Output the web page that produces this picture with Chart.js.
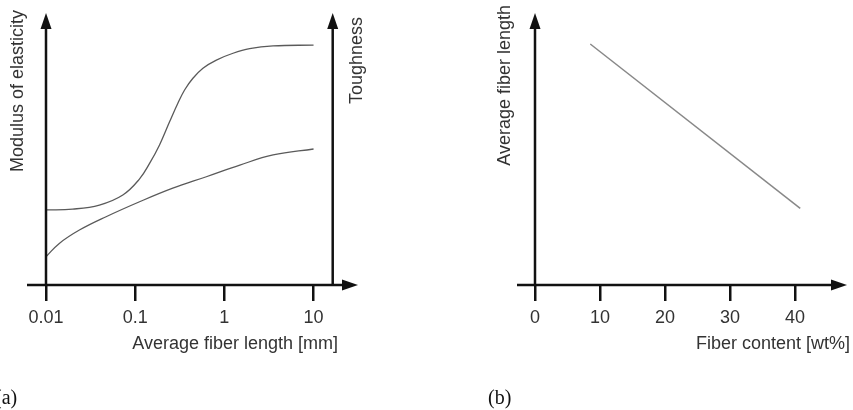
<!DOCTYPE html>
<html>
<head>
<meta charset="utf-8">
<script src="https://cdn.jsdelivr.net/npm/chart.js@4.4.1/dist/chart.umd.min.js"></script>
<style>
  body { margin: 0; background: #fff; width: 853px; height: 410px; overflow: hidden; position: relative; }
  canvas { position: absolute; top: 0; }
  #chartA { left: 0; }
  #chartB { left: 420px; }
  .tag { position: absolute; font-family: 'Liberation Serif', 'Times New Roman', serif; font-size: 20px; color: #111; }
</style>
</head>
<body>
<canvas id="chartA" width="400" height="410"></canvas>
<canvas id="chartB" width="433" height="410"></canvas>
<div class="tag" style="left:-5px; top:386px;">(a)</div>
<div class="tag" style="left:488px; top:386px;">(b)</div>
<script>
// panel (a): modulus and toughness vs. average fiber length (log axis)
const lengthTicks = [0.01, 0.1, 1, 10];
const modulusX = [0.01, 0.0199, 0.0397, 0.0727, 0.112, 0.145, 0.1875, 0.243, 0.301, 0.358, 0.444, 0.575, 0.813, 1.25, 1.92, 3.52, 10];
const modulusY = [27.6, 27.9, 29.4, 33.1, 39.0, 44.7, 51.5, 60.0, 66.8, 71.7, 76.0, 79.7, 82.7, 85.2, 86.9, 87.9, 88.2];
const toughX = [0.01, 0.0141, 0.0237, 0.0472, 0.112, 0.264, 0.628, 1.49, 3.52, 10];
const toughY = [10.4, 15.3, 20.2, 25.1, 30.6, 35.6, 39.8, 44.1, 47.8, 50.0];

// panel (b): average fiber length vs. fiber content
const contentTicks = [0, 10, 20, 30, 40];
const contentX = [8.5, 40.8];
const avgLengthY = [88.6, 28.2];

const FONT = "'Liberation Sans', Arial, sans-serif";
const INK = '#111';
const TXT = '#333';

const toXY = (xs, ys) => xs.map((x, i) => ({ x, y: ys[i] }));

function arrowHead(ctx, x, y, dir) {
  ctx.beginPath();
  if (dir === 'up') {
    ctx.moveTo(x, y); ctx.lineTo(x - 5.5, y + 16); ctx.lineTo(x + 5.5, y + 16);
  } else {
    ctx.moveTo(x, y); ctx.lineTo(x - 16, y - 5.5); ctx.lineTo(x - 16, y + 5.5);
  }
  ctx.closePath();
  ctx.fill();
}

// draws the arrowed axes and the vertical axis titles
const arrowAxes = {
  id: 'arrowAxes',
  afterDraw(chart, args, opts) {
    const { ctx, chartArea: ca, scales: { x } } = chart;
    ctx.save();
    ctx.strokeStyle = INK;
    ctx.fillStyle = INK;
    ctx.lineWidth = 2.5;
    const tip = ca.right + opts.tipRight;
    ctx.beginPath();
    ctx.moveTo(ca.left - opts.stubLeft, ca.bottom);
    ctx.lineTo(tip - 10, ca.bottom);
    ctx.stroke();
    arrowHead(ctx, tip, ca.bottom, 'right');

    opts.vAxes.forEach(v => {
      const px = x.getPixelForValue(v.at);
      ctx.beginPath();
      ctx.moveTo(px, ca.bottom + 1);
      ctx.lineTo(px, ca.top + 10);
      ctx.stroke();
      arrowHead(ctx, px, ca.top, 'up');

      ctx.save();
      ctx.translate(px + v.dx, v.top);
      ctx.rotate(-Math.PI / 2);
      ctx.font = '18px ' + FONT;
      ctx.fillStyle = TXT;
      ctx.textAlign = 'right';
      ctx.textBaseline = 'middle';
      ctx.fillText(v.title, 0, 0);
      ctx.restore();
    });
    ctx.restore();
  }
};

function xAxis(extra) {
  return Object.assign({
    grid: { display: true, drawOnChartArea: false, drawTicks: true, tickLength: 16, color: INK, lineWidth: 2.5 },
    border: { display: false },
    ticks: { color: TXT, font: { size: 18, family: FONT }, padding: 6, maxRotation: 0, autoSkip: false },
    afterFit: s => { s.height = 70; }
  }, extra);
}

const hiddenY = { display: false, min: 0, max: 100 };

new Chart(document.getElementById('chartA'), {
  type: 'line',
  data: {
    datasets: [
      { data: toXY(modulusX, modulusY), borderColor: '#5a5a5a', borderWidth: 1.3, pointRadius: 0, tension: 0.4 },
      { data: toXY(toughX, toughY), borderColor: '#5a5a5a', borderWidth: 1.3, pointRadius: 0, tension: 0.4 }
    ]
  },
  options: {
    responsive: false,
    animation: false,
    devicePixelRatio: 1,
    layout: { padding: { left: 46, right: 62, top: 13, bottom: 55 } },
    plugins: {
      legend: { display: false },
      tooltip: { enabled: false },
      arrowAxes: {
        stubLeft: 19, tipRight: 20,
        vAxes: [
          { at: 0.01, title: 'Modulus of elasticity', dx: -28, top: 10 },
          { at: 16.4, title: 'Toughness', dx: 24, top: 17 }
        ]
      }
    },
    scales: {
      x: xAxis({
        type: 'logarithmic',
        min: 0.01,
        max: 18.8,
        afterBuildTicks: s => { s.ticks = lengthTicks.map(v => ({ value: v })); },
        ticks: { color: TXT, font: { size: 18, family: FONT }, padding: 6, maxRotation: 0, autoSkip: false, callback: v => String(v) },
        title: { display: true, text: 'Average fiber length [mm]', align: 'end', color: TXT, font: { size: 18, family: FONT }, padding: 0 }
      }),
      y: hiddenY
    }
  },
  plugins: [arrowAxes]
});

new Chart(document.getElementById('chartB'), {
  type: 'line',
  data: {
    datasets: [
      { data: toXY(contentX, avgLengthY), borderColor: '#888', borderWidth: 1.5, pointRadius: 0 }
    ]
  },
  options: {
    responsive: false,
    animation: false,
    devicePixelRatio: 1,
    layout: { padding: { left: 115, right: 3, top: 13, bottom: 55 } },
    plugins: {
      legend: { display: false },
      tooltip: { enabled: false },
      arrowAxes: {
        stubLeft: 18, tipRight: -3,
        vAxes: [
          { at: 0, title: 'Average fiber length', dx: -30, top: 5 }
        ]
      }
    },
    scales: {
      x: xAxis({
        type: 'linear',
        min: 0,
        max: 48.46,
        afterBuildTicks: s => { s.ticks = contentTicks.map(v => ({ value: v })); },
        title: { display: true, text: 'Fiber content [wt%]', align: 'end', color: TXT, font: { size: 18, family: FONT }, padding: 0 }
      }),
      y: hiddenY
    }
  },
  plugins: [arrowAxes]
});
</script>
</body>
</html>
